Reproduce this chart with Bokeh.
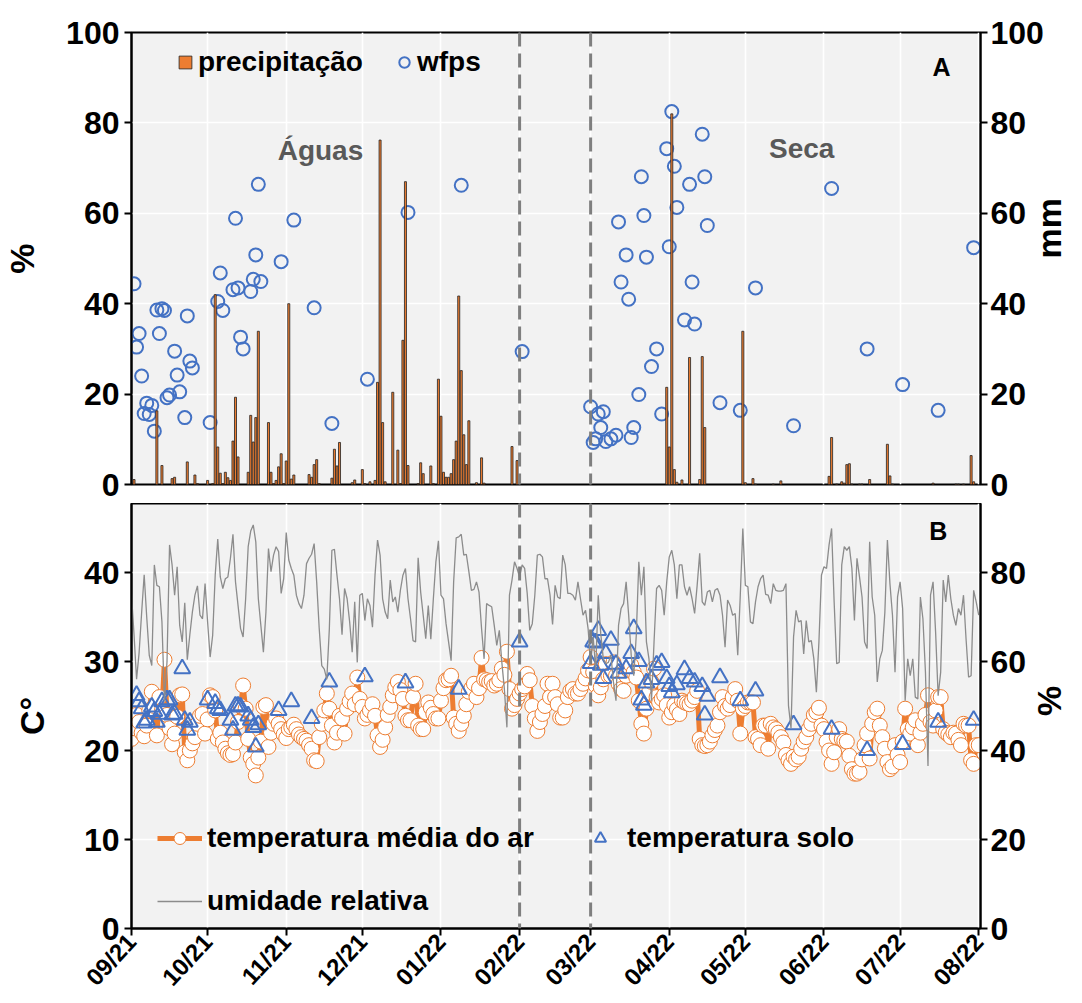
import math
from bokeh.plotting import figure
from bokeh.models import (Range1d, LinearAxis, FixedTicker, Span, Legend, LegendItem,
                          Label)
from bokeh.layouts import column
from bokeh.embed import file_html
from bokeh.resources import INLINE

# ---------------- data ----------------
month_days = [0, 30, 61, 91, 122, 153, 181, 212, 242, 273, 303, 334]
month_labels = ["09/21", "10/21", "11/21", "12/21", "01/22", "02/22",
                "03/22", "04/22", "05/22", "06/22", "07/22", "08/22"]

prec_day = [1, 10, 12, 16, 17, 22, 25, 26, 30, 32, 33, 34, 35, 36, 37, 38, 39, 40, 41, 42,
            46, 47, 48, 49, 50, 54, 55, 56, 57, 58, 59, 60, 61, 62, 63, 64, 70, 71, 72, 73,
            74, 79, 80, 81, 82, 87, 88, 91, 92, 94, 96, 97, 98, 99, 100, 103, 105, 106, 107, 108,
            109, 113, 114, 115, 118, 119, 121, 122, 123, 124, 125, 126, 127, 128, 129, 130, 131, 132, 133, 136,
            138, 139, 150, 152, 211, 212, 213, 214, 215, 217, 220, 224, 225, 226, 241, 242, 245, 246, 253, 256,
            275, 276, 278, 280, 281, 282, 283, 284, 287, 288, 291, 298, 299, 300, 316, 325, 326, 328, 331, 332]
prec_mm = [1.1, 16.3, 4.2, 1.3, 1.6, 5.0, 2.1, 0.2, 0.9, 0.2, 42.0, 8.3, 2.5, 0.2, 2.7, 1.5, 0.9, 9.6, 19.3, 6.1,
           2.7, 15.3, 9.4, 14.8, 33.9, 13.7, 2.7, 0.2, 0.9, 3.9, 6.8, 0.2, 5.2, 40.0, 1.2, 2.1, 2.2, 1.6, 4.4, 5.5,
           0.2, 1.4, 7.8, 4.1, 9.3, 0.4, 1.0, 3.3, 0.2, 0.6, 0.9, 22.6, 76.2, 13.7, 0.6, 20.4, 7.6, 0.2, 31.9, 67.0,
           4.2, 0.2, 4.8, 2.4, 4.1, 0.2, 23.3, 15.1, 2.7, 1.6, 1.6, 2.4, 5.5, 9.6, 41.7, 25.2, 11.0, 4.4, 14.1, 0.4,
           5.9, 0.3, 8.4, 5.3, 21.5, 8.3, 82.0, 3.3, 0.5, 1.0, 28.1, 1.1, 28.3, 12.6, 33.9, 0.4, 1.3, 0.1, 0.1, 0.8,
           1.8, 10.4, 0.1, 0.6, 0.3, 4.4, 4.6, 0.1, 0.1, 0.1, 1.1, 8.9, 1.9, 0.1, 0.3, 0.1, 0.1, 0.1, 6.4, 0.6]

wfps_day = [1, 2, 3, 4, 5, 6, 7, 8, 9, 10, 11, 12, 13, 14, 15, 17, 18, 19, 21, 22,
            23, 24, 31, 34, 35, 36, 40, 41, 42, 43, 44, 47, 48, 49, 50, 51, 59, 64, 72, 79,
            93, 109, 130, 154, 181, 182, 183, 184, 185, 186, 187, 189, 191, 192, 193, 195, 196, 197, 198, 200,
            201, 202, 203, 205, 207, 209, 211, 212, 213, 214, 215, 218, 220, 221, 222, 225, 226, 227, 232, 240,
            246, 261, 276, 290, 304, 318, 332]
wfps_pct = [44.4, 30.4, 33.4, 24.0, 15.7, 18.0, 15.5, 17.5, 11.8, 38.6, 33.4, 38.9, 38.5, 19.2, 19.8, 29.5, 24.2, 20.5, 14.8, 37.3,
            27.3, 25.8, 13.7, 40.5, 46.8, 38.5, 43.1, 58.9, 43.5, 32.6, 30.0, 42.7, 45.4, 50.8, 66.4, 44.9, 49.3, 58.5, 39.1, 13.5,
            23.3, 60.2, 66.2, 29.4, 17.2, 9.3, 10.1, 15.6, 12.6, 16.1, 9.5, 10.1, 10.9, 58.1, 44.8, 50.8, 41.0, 10.4, 12.6, 19.9,
            68.1, 59.5, 50.3, 26.1, 30.0, 15.6, 74.3, 52.6, 82.5, 70.4, 61.3, 36.4, 66.4, 44.8, 35.5, 77.5, 68.1, 57.3, 18.1, 16.4,
            43.5, 13.0, 65.5, 30.0, 22.1, 16.4, 52.4]

air_temp = [
    21.3, 22.5, 24.0, 23.2, 22.0, 21.6, 22.8, 24.5, 26.6, 25.0,
    21.7, 26.0, 24.5, 30.2, 24.0, 22.5, 20.7, 21.9, 23.8, 26.2,
    26.3, 19.8, 18.9, 20.0, 20.8, 21.5, 23.0, 23.9, 24.1, 21.9,
    23.5, 26.2, 26.0, 24.5, 21.3, 22.0, 20.9, 20.2, 19.7, 19.5,
    19.6, 20.9, 23.2, 25.0, 27.3, 24.7, 21.3, 19.2, 18.5, 17.2,
    19.2, 21.0, 24.9, 25.1, 20.4, 22.0, 23.0, 23.6, 23.0, 22.4,
    21.8, 21.4, 22.4, 22.6, 22.9, 22.4, 21.8, 21.5, 21.3, 21.1,
    20.6, 20.2, 18.9, 18.8, 21.5, 23.0, 24.5, 26.4, 24.7, 22.8,
    20.9, 22.0, 23.9, 23.6, 21.9, 24.7, 25.5, 26.4, 25.2, 28.2,
    25.8, 24.9, 23.6, 24.0, 24.5, 25.2, 23.9, 21.7, 20.4, 21.2,
    22.6, 24.0, 24.9, 26.2, 27.1, 27.7, 26.8, 25.8, 23.9, 23.4,
    23.4, 26.0, 27.5, 22.8, 22.4, 22.4, 24.3, 25.4, 24.8, 24.1,
    23.6, 23.6, 25.6, 27.0, 27.9, 28.0, 28.4, 23.7, 23.0, 22.2,
    23.0, 23.9, 25.2, 26.6, 27.0, 27.5, 26.0, 27.0, 30.4, 28.0,
    27.9, 27.7, 27.8, 27.3, 27.5, 27.9, 29.2, 28.5, 31.1, 26.9,
    24.7, 25.1, 25.8, 26.4, 26.9, 27.2, 28.6, 27.9, 25.0, 23.6,
    22.2, 23.2, 24.1, 25.0, 27.5, 26.0, 27.5, 26.0, 25.2, 23.7,
    23.7, 24.5, 26.0, 26.7, 26.9, 26.4, 26.4, 26.9, 27.5, 28.1,
    29.0, 30.5, 28.8, 27.3, 26.2, 27.1, 28.0, 29.7, 28.4, 28.4,
    29.9, 28.4, 27.5, 26.9, 26.7, 28.4, 29.0, 29.6, 28.8, 28.2,
    25.6, 23.0, 21.9, 24.7, 26.5, 27.7, 29.2, 26.0, 25.4, 25.8,
    26.2, 25.1, 23.7, 24.3, 25.1, 24.6, 24.1, 25.6, 25.4, 25.3,
    25.2, 25.6, 26.0, 26.7, 21.3, 20.6, 20.5, 20.6, 21.0, 21.7,
    22.3, 22.8, 24.3, 26.0, 25.0, 24.7, 25.1, 26.0, 26.9, 25.6,
    21.9, 24.7, 25.0, 25.4, 25.4, 25.4, 21.5, 21.3, 20.6, 22.8,
    22.8, 20.2, 23.0, 22.6, 22.4, 22.0, 21.5, 20.9, 19.5, 18.9,
    18.5, 19.3, 19.0, 19.3, 20.2, 21.0, 21.5, 22.4, 23.0, 24.0,
    24.3, 24.8, 22.8, 22.4, 21.0, 20.0, 18.5, 19.8, 21.5, 22.4,
    21.3, 21.1, 21.0, 19.4, 17.9, 17.4, 17.4, 17.6, 19.0, 20.6,
    21.9, 19.1, 23.0, 24.3, 24.7, 22.8, 21.5, 20.2, 18.7, 17.9,
    18.2, 20.6, 19.5, 18.7, 21.0, 24.7, 22.4, 21.9, 22.6, 23.4,
    20.6, 22.0, 23.0, 24.0, 26.2, 23.2, 22.8, 24.5, 26.0, 26.0,
    22.4, 22.0, 21.8, 21.5, 22.0, 21.9, 21.2, 20.6, 23.0, 22.8,
    22.8, 18.9, 18.5, 20.6, 20.6,
]

rel_hum = [
    75.0, 66.0, 56.0, 62.0, 71.0, 79.5, 70.0, 61.4, 59.1, 81.7,
    77.1, 76.8, 68.9, 51.0, 60.0, 86.2, 81.7, 74.9, 81.3, 68.1,
    64.4, 73.2, 60.4, 66.0, 71.1, 74.9, 77.0, 70.4, 69.6, 77.5,
    68.9, 61.0, 65.9, 79.4, 87.5, 79.0, 76.4, 78.6, 79.0, 83.2,
    88.6, 77.9, 72.6, 67.4, 65.5, 74.1, 85.8, 89.3, 90.7, 86.9,
    74.1, 68.1, 62.1, 71.1, 85.4, 80.2, 83.9, 85.8, 84.7, 75.3,
    78.6, 89.0, 82.8, 80.9, 79.4, 74.9, 73.0, 71.9, 74.9, 82.0,
    83.2, 84.1, 86.5, 77.9, 67.4, 59.1, 58.3, 56.0, 67.4, 85.0,
    85.2, 79.4, 74.1, 66.0, 76.4, 74.1, 68.9, 62.1, 73.4, 59.8,
    74.9, 75.3, 69.2, 74.1, 72.6, 67.7, 79.4, 87.3, 83.9, 74.1,
    71.1, 69.6, 78.3, 73.4, 74.5, 71.1, 76.0, 79.4, 80.9, 74.1,
    69.6, 64.7, 64.4, 83.3, 75.6, 70.4, 65.1, 72.6, 65.0, 74.1,
    82.4, 87.1, 74.9, 74.1, 68.5, 64.4, 60.2, 77.9, 87.8, 88.0,
    88.6, 83.9, 84.1, 80.2, 76.0, 76.2, 77.9, 75.6, 67.4, 60.6,
    73.0, 72.6, 72.3, 68.1, 63.6, 67.0, 59.8, 53.8, 45.2, 74.9,
    78.3, 82.4, 80.9, 79.0, 81.7, 80.9, 75.3, 67.0, 68.5, 74.9,
    83.9, 84.1, 83.5, 78.6, 78.6, 74.9, 68.3, 77.1, 74.5, 74.1,
    83.9, 81.7, 75.3, 75.3, 74.9, 73.8, 77.9, 74.1, 70.4, 71.5,
    67.4, 59.8, 65.5, 58.0, 74.9, 66.2, 60.6, 59.5, 59.8, 61.4,
    55.4, 51.2, 68.1, 71.9, 73.0, 77.9, 70.4, 61.4, 56.8, 65.9,
    82.4, 74.9, 81.3, 64.4, 60.6, 51.2, 64.4, 76.4, 77.1, 76.0,
    70.4, 77.9, 83.5, 85.0, 81.7, 74.1, 81.7, 81.7, 76.8, 74.9,
    76.8, 74.1, 70.8, 77.1, 84.3, 73.4, 72.6, 75.6, 76.0, 73.4,
    76.0, 76.4, 74.9, 70.4, 63.2, 73.8, 72.6, 70.4, 70.8, 61.4,
    74.9, 89.9, 77.1, 76.8, 68.9, 68.5, 73.4, 76.8, 78.6, 79.4,
    75.1, 74.9, 73.0, 77.5, 76.0, 75.8, 75.8, 76.0, 77.5, 50.1,
    45.0, 65.5, 71.5, 68.9, 69.2, 61.7, 69.2, 64.4, 64.7, 60.6,
    53.1, 64.4, 79.4, 81.3, 80.9, 86.2, 89.9, 73.4, 59.5, 59.8,
    81.7, 85.8, 85.0, 85.8, 80.9, 69.2, 83.2, 79.0, 74.5, 64.4,
    62.9, 86.9, 74.5, 70.4, 55.4, 60.6, 62.5, 71.1, 87.3, 77.5,
    70.4, 57.6, 74.5, 77.9, 71.9, 51.2, 60.6, 56.8, 60.6, 52.0,
    51.6, 74.5, 69.6, 57.6, 36.5, 74.9, 77.9, 66.6, 52.3, 57.6,
    78.3, 73.4, 79.4, 74.1, 70.4, 68.1, 71.9, 70.4, 74.9, 65.1,
    56.5, 56.8, 76.0, 73.4, 70.4,
]
day_idx = list(range(len(air_temp)))

soil_day = [2, 3, 4, 5, 6, 8, 9, 10, 11, 12, 14, 15, 16, 17, 20, 21, 22, 23, 30, 33,
            34, 35, 39, 40, 41, 42, 43, 46, 47, 48, 49, 50, 58, 63, 71, 78, 92, 108, 129, 153,
            181, 182, 183, 184, 185, 186, 187, 189, 191, 192, 195, 197, 198, 200, 201, 202, 203, 205, 207, 209,
            211, 212, 213, 215, 218, 220, 222, 225, 226, 227, 232, 240, 246, 261, 276, 290, 304, 318, 332]
soil_temp = [26.2, 25.5, 24.7, 23.1, 23.4, 24.9, 24.4, 23.2, 24.1, 25.5, 25.7, 25.7, 24.0, 24.1, 29.2, 23.4, 22.3, 23.2, 25.7, 25.3,
             24.7, 24.5, 23.4, 22.3, 25.0, 25.0, 24.9, 23.9, 23.4, 22.6, 20.4, 22.9, 24.5, 25.5, 23.6, 27.7, 28.3, 27.6, 26.9, 32.2,
             29.8, 32.2, 32.1, 33.5, 29.6, 28.1, 30.9, 32.4, 29.7, 28.7, 29.2, 30.9, 33.7, 30.0, 25.7, 25.1, 27.6, 28.0, 29.6, 29.9,
             28.1, 27.2, 26.5, 27.4, 29.1, 28.1, 27.7, 27.2, 24.0, 26.1, 28.2, 25.6, 26.7, 22.9, 22.4, 20.0, 20.7, 23.2, 23.4]

a_ticks = [0, 20, 40, 60, 80, 100]
t_ticks = [0, 10, 20, 30, 40]
rh_ticks = [0, 20, 40, 60, 80]

# ---------------- style ----------------
FONT = "Liberation Sans"
ORANGE = "#ED7D31"
BLUE = "#4472C4"
BG = "#F2F2F2"
TICK_SIZE = "32px"
AXLAB_SIZE = "34px"
LEG_SIZE = "28px"
BORDER_L, BORDER_R = 129, 104


def style_axis(ax, label=None, standoff=10, lab_standoff=5):
    ax.axis_line_width = 2
    ax.axis_line_color = "black"
    ax.major_tick_line_width = 2
    ax.major_tick_line_color = "black"
    ax.major_tick_in = 0
    ax.major_tick_out = 7
    ax.minor_tick_line_color = None
    ax.major_label_text_font = FONT
    ax.major_label_text_font_style = "bold"
    ax.major_label_text_font_size = TICK_SIZE
    ax.major_label_text_color = "black"
    ax.major_label_standoff = lab_standoff
    if label is not None:
        ax.axis_label = label
        ax.axis_label_text_font = FONT
        ax.axis_label_text_font_style = "bold"
        ax.axis_label_text_font_size = AXLAB_SIZE
        ax.axis_label_text_color = "black"
        ax.axis_label_standoff = standoff


def base_fig(frame_h, yr, top_b, bot_b):
    p = figure(frame_width=849, frame_height=frame_h,
               x_range=Range1d(0, 334.7), y_range=yr,
               output_backend="svg", toolbar_location=None,
               min_border_left=BORDER_L, min_border_right=BORDER_R,
               min_border_top=top_b, min_border_bottom=bot_b)
    p.background_fill_color = BG
    p.border_fill_color = "white"
    p.outline_line_color = "black"
    p.outline_line_width = 2
    p.xgrid.ticker = FixedTicker(ticks=month_days)
    p.xgrid.grid_line_color = "white"
    p.xgrid.grid_line_width = 1.6
    p.ygrid.grid_line_color = "white"
    p.ygrid.grid_line_width = 1.6
    return p


def add_legend(p, item, loc, gw, gh, standoff):
    lg = Legend(items=[item], location=loc, glyph_width=gw, glyph_height=gh,
                label_standoff=standoff)
    lg.label_text_font = FONT
    lg.label_text_font_style = "bold"
    lg.label_text_font_size = LEG_SIZE
    lg.label_text_color = "black"
    lg.border_line_alpha = 0
    lg.background_fill_alpha = 0
    lg.padding = 0
    lg.margin = 0
    p.add_layout(lg)


def add_text(p, x, y, s, size, color="black"):
    p.add_layout(Label(x=x, y=y, text=s, text_font=FONT, text_font_style="bold",
                       text_font_size=size, text_color=color, text_align="center",
                       text_baseline="middle"))


# ---------------- panel A ----------------
top = base_fig(452, Range1d(0, 100), 32, 19)
top.xaxis.visible = False
top.yaxis.ticker = FixedTicker(ticks=a_ticks)
top.ygrid.ticker = FixedTicker(ticks=a_ticks)
style_axis(top.yaxis[0], "%", 22, 5)
top.extra_y_ranges = {"mm": Range1d(0, 100)}
ax_mm = LinearAxis(y_range_name="mm", ticker=FixedTicker(ticks=a_ticks))
style_axis(ax_mm, "mm", 2, 3)
ax_mm.axis_label_orientation = math.pi / 2
top.add_layout(ax_mm, "right")

r_wfps = top.scatter(wfps_day, wfps_pct, marker="circle", size=13,
                     fill_alpha=0, line_color=BLUE, line_width=2)
r_prec = top.vbar(x=prec_day, top=prec_mm, width=0.8, bottom=0,
                  fill_color=ORANGE, line_color="#222222", line_width=0.8,
                  y_range_name="mm")
for d in (153, 181):
    top.add_layout(Span(location=d, dimension="height", line_color="#7F7F7F",
                        line_dash="14 7", line_width=3))

add_legend(top, LegendItem(label="precipitação", renderers=[r_prec]), (46, 406), 16, 16, 5)
add_legend(top, LegendItem(label="wfps", renderers=[r_wfps]), (260, 406), 26, 30, 0)

add_text(top, 74.5, 73.9, "Águas", "28px", "#595959")
add_text(top, 264.2, 74.3, "Seca", "28px", "#595959")
add_text(top, 319.3, 92.3, "A", "25px")

# ---------------- panel B ----------------
B_FRAME = 425
B_PX = 8.9
bot = base_fig(B_FRAME, Range1d(0, B_FRAME / B_PX), 0, 72)
bot.x_range = top.x_range
bot.yaxis.ticker = FixedTicker(ticks=t_ticks)
bot.ygrid.ticker = FixedTicker(ticks=t_ticks[1:])
style_axis(bot.yaxis[0], "C°", 30, 5)
bot.extra_y_ranges = {"rh": Range1d(0, 2 * B_FRAME / B_PX)}
ax_rh = LinearAxis(y_range_name="rh", ticker=FixedTicker(ticks=rh_ticks))
style_axis(ax_rh, "%", 20, 3)
ax_rh.axis_label_orientation = math.pi / 2
bot.add_layout(ax_rh, "right")

xa = bot.xaxis[0]
style_axis(xa, None, 0, 2)
xa.ticker = FixedTicker(ticks=month_days)
xa.major_label_overrides = {d: lab for d, lab in zip(month_days, month_labels)}
xa.major_label_text_font_size = "24px"
xa.major_label_orientation = 0.82

r_air_l = bot.line(day_idx, air_temp, line_color=ORANGE, line_width=5)
r_air_c = bot.scatter(day_idx, air_temp, marker="circle", size=15, fill_color="white",
                      line_color=ORANGE, line_width=1)
r_soil = bot.scatter(soil_day, soil_temp, marker="triangle", size=16, fill_alpha=0,
                     line_color=BLUE, line_width=2)
r_rh = bot.line(day_idx, rel_hum, line_color="#8C8C8C", line_width=1.3, y_range_name="rh")

for d in (153, 181):
    bot.add_layout(Span(location=d, dimension="height", line_color="#7F7F7F",
                        line_dash="14 7", line_width=3))

add_legend(bot, LegendItem(label="temperatura média do ar", renderers=[r_air_l, r_air_c]),
           (26, 74), 45, 30, 5)
add_legend(bot, LegendItem(label="temperatura solo", renderers=[r_soil]), (455, 74), 28, 28, 13)
add_legend(bot, LegendItem(label="umidade relativa", renderers=[r_rh]), (26, 11), 45, 30, 5)

add_text(bot, 318.1, 44.7, "B", "25px")

layout = column(top, bot, spacing=0)
open("out.html", "w").write(file_html(layout, INLINE))
